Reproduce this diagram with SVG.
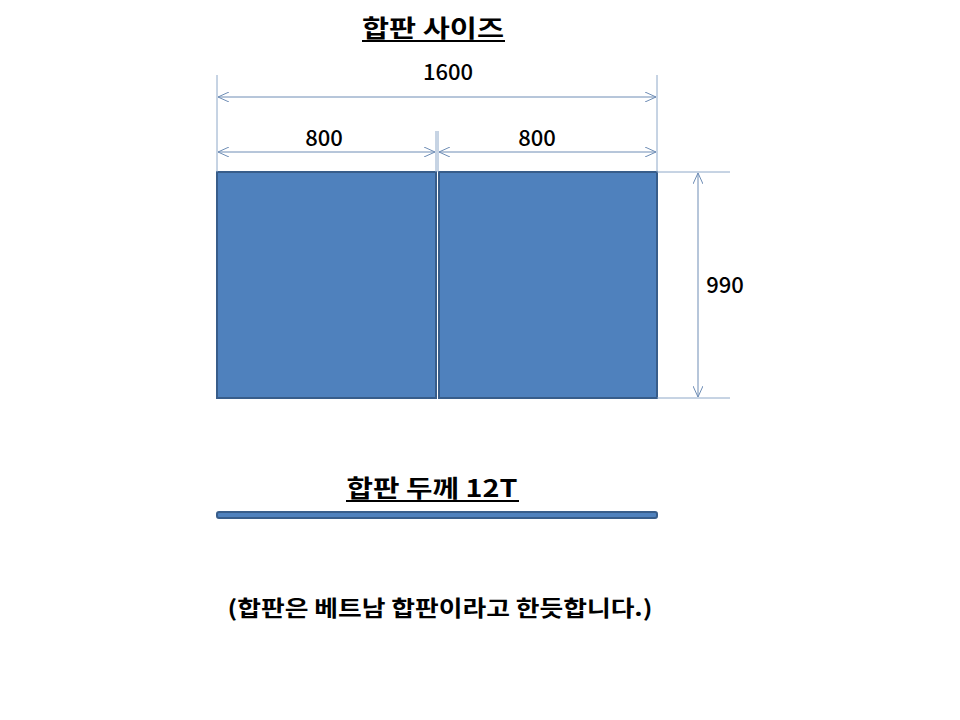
<svg xmlns="http://www.w3.org/2000/svg" width="960" height="720" viewBox="0 0 960 720">
<defs>
<style>
.t{font-family:"Noto Sans CJK KR","Liberation Sans",sans-serif;fill:#000}
.h{font-weight:bold;font-size:24px}
.n{font-size:22px;font-weight:500}
.dim{stroke:#6E8DB5;stroke-width:1;fill:none}
.ext{stroke:#8EA8C8;stroke-width:1;fill:none}
.panel{fill:#4F81BD;stroke:#385D8A;stroke-width:2}
.ul{stroke:#000;stroke-width:2}
</style>
<marker id="ah" viewBox="0 0 12 10" refX="11" refY="5" markerWidth="12" markerHeight="10" markerUnits="userSpaceOnUse" orient="auto-start-reverse">
<path d="M0,0 L11,5 L0,10" fill="none" stroke="#6E8DB5" stroke-width="1"/>
</marker>
</defs>
<rect width="960" height="720" fill="#fff"/>
<g id="title">
<text class="t h" x="433" y="37" text-anchor="middle" textLength="142" lengthAdjust="spacingAndGlyphs">합판 사이즈</text>
<line class="ul" x1="362" y1="41" x2="505" y2="41"/>
</g>
<g id="panel-left"><rect class="panel" x="217" y="172" width="219" height="226"/></g>
<g id="panel-right"><rect class="panel" x="439" y="172" width="218" height="226"/></g>
<g id="connectors">
<line class="ext" x1="217" y1="75" x2="217" y2="172"/>
<line class="ext" x1="657" y1="75" x2="657" y2="172"/>
<line class="ext" x1="436" y1="131" x2="436" y2="172"/>
<line class="ext" x1="438" y1="131" x2="438" y2="172"/>
<line class="ext" x1="657" y1="172" x2="730" y2="172"/>
<line class="ext" x1="657" y1="398" x2="730" y2="398"/>
<line class="dim" x1="218" y1="97" x2="656" y2="97" marker-start="url(#ah)" marker-end="url(#ah)"/>
<line class="dim" x1="218" y1="152" x2="435" y2="152" marker-start="url(#ah)" marker-end="url(#ah)"/>
<line class="dim" x1="439" y1="152" x2="656" y2="152" marker-start="url(#ah)" marker-end="url(#ah)"/>
<line class="dim" x1="698" y1="173" x2="698" y2="397" marker-start="url(#ah)" marker-end="url(#ah)"/>
</g>
<g id="labels">
<text class="t n" x="448" y="80" text-anchor="middle">1600</text>
<text class="t n" x="324" y="146" text-anchor="middle">800</text>
<text class="t n" x="537" y="146" text-anchor="middle">800</text>
<text class="t n" x="725" y="293" text-anchor="middle">990</text>
</g>
<g id="thickness-title">
<text class="t h" x="432" y="497" text-anchor="middle" textLength="171" lengthAdjust="spacingAndGlyphs">합판 두께 12T</text>
<line class="ul" x1="346" y1="501" x2="519" y2="501"/>
</g>
<g id="board"><rect class="panel" x="217" y="512" width="440" height="6" rx="2"/></g>
<g id="note">
<text class="t" x="440" y="616" text-anchor="middle" font-size="22" font-weight="bold" textLength="425" lengthAdjust="spacingAndGlyphs">(합판은 베트남 합판이라고 한듯합니다.)</text>
</g>
</svg>
